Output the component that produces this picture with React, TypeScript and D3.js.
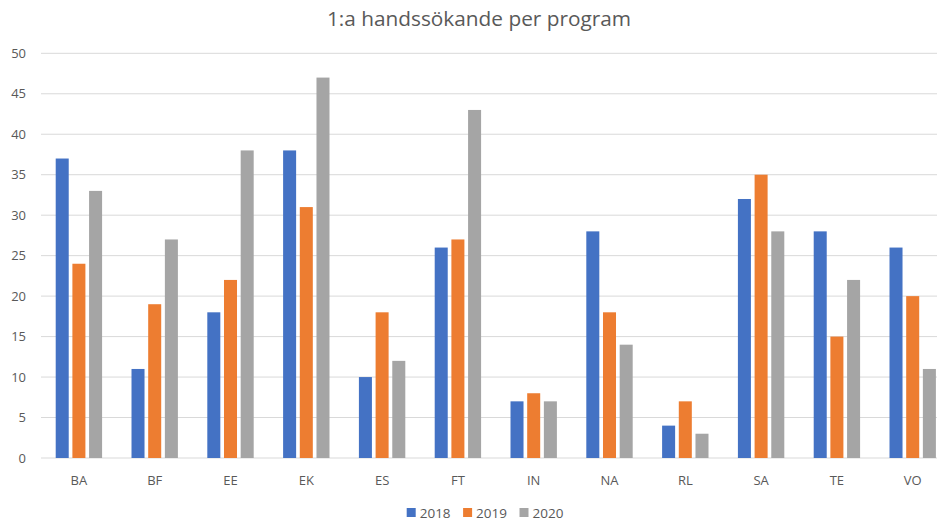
import React, { useEffect, useRef } from 'react';
import * as d3 from 'd3';

// programs on the x axis
const programs = ['BA', 'BF', 'EE', 'EK', 'ES', 'FT', 'IN', 'NA', 'RL', 'SA', 'TE', 'VO'];
const years = ['2018', '2019', '2020'];

// first-hand applicants per year
const values2018 = [37, 11, 18, 38, 10, 26, 7, 28, 4, 32, 28, 26];
const values2019 = [24, 19, 22, 31, 18, 27, 8, 18, 7, 35, 15, 20];
const values2020 = [33, 27, 38, 47, 12, 43, 7, 14, 3, 28, 22, 11];

const yTicks = [0, 5, 10, 15, 20, 25, 30, 35, 40, 45, 50];
const colors = ['#4472C4', '#ED7D31', '#A5A5A5'];

const WIDTH = 937;
const HEIGHT = 525;

export default function App() {
  const ref = useRef<SVGSVGElement>(null);

  useEffect(() => {
    const svg = d3.select(ref.current);
    svg.selectAll('*').remove();

    const margin = { top: 53.3, left: 41, bottom: 458 };
    const plotRight = 950.6; // the plot runs a bit past the picture edge

    const series = [values2018, values2019, values2020];

    const x0 = d3.scaleBand<string>()
      .domain(programs)
      .range([margin.left, plotRight])
      .paddingInner(0.388)
      .paddingOuter(0.194);

    const x1 = d3.scaleBand<string>()
      .domain(years)
      .range([0, x0.bandwidth()])
      .paddingInner(0.22);

    const y = d3.scaleLinear().domain([0, 50]).range([margin.bottom, margin.top]);

    const font = "'Open Sans', 'Noto Sans', sans-serif";

    // title
    svg.append('text')
      .attr('x', 479)
      .attr('y', 26)
      .attr('text-anchor', 'middle')
      .attr('font-family', font)
      .attr('font-size', 20.8)
      .attr('fill', '#595959')
      .text('1:a handssökande per program');

    // grid
    svg.append('g')
      .selectAll('line')
      .data(yTicks)
      .join('line')
      .attr('x1', margin.left)
      .attr('x2', plotRight)
      .attr('y1', d => y(d))
      .attr('y2', d => y(d))
      .attr('stroke', '#D9D9D9')
      .attr('stroke-width', 1);

    // y labels
    svg.append('g')
      .selectAll('text')
      .data(yTicks)
      .join('text')
      .attr('x', 26)
      .attr('y', d => y(d) + 4.5)
      .attr('text-anchor', 'end')
      .attr('font-family', font)
      .attr('font-size', 13)
      .attr('fill', '#595959')
      .text(d => d);

    // bars
    const groups = svg.append('g')
      .selectAll('g')
      .data(programs)
      .join('g')
      .attr('transform', d => 'translate(' + x0(d) + ',0)');

    groups.selectAll('rect')
      .data((p, i) => years.map((yr, k) => ({ yr, k, v: series[k][i] })))
      .join('rect')
      .attr('x', d => x1(d.yr)!)
      .attr('width', x1.bandwidth())
      .attr('y', d => y(d.v))
      .attr('height', d => y(0) - y(d.v))
      .attr('fill', d => colors[d.k]);

    // x labels
    svg.append('g')
      .selectAll('text')
      .data(programs)
      .join('text')
      .attr('x', d => x0(d)! + x0.bandwidth() / 2)
      .attr('y', 485)
      .attr('text-anchor', 'middle')
      .attr('font-family', font)
      .attr('font-size', 13)
      .attr('fill', '#595959')
      .text(d => d);

    // legend
    const legend = svg.append('g')
      .selectAll('g')
      .data(years)
      .join('g')
      .attr('transform', (d, i) => 'translate(' + (406.7 + i * 56.4) + ',508)');
    legend.append('rect')
      .attr('width', 9)
      .attr('height', 9)
      .attr('fill', (d, i) => colors[i]);
    legend.append('text')
      .attr('x', 13)
      .attr('y', 9.5)
      .attr('font-family', font)
      .attr('font-size', 13.5)
      .attr('fill', '#595959')
      .text(d => d);
  }, []);

  return (
    <svg
      ref={ref}
      width={WIDTH}
      height={HEIGHT}
      style={{ position: 'absolute', left: 0, top: 0, background: '#fff' }}
    />
  );
}
